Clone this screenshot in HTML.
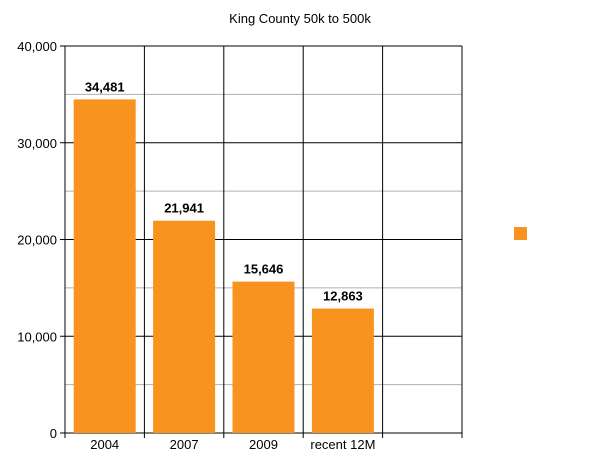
<!DOCTYPE html>
<html><head><meta charset="utf-8"><style>
body{margin:0;background:#fff;font-family:"Liberation Sans",sans-serif}
</style></head><body>
<svg id="chart" width="600" height="463" xmlns="http://www.w3.org/2000/svg" font-family="Liberation Sans, sans-serif">
<text x="300" y="23" text-anchor="middle" font-size="13" fill="#000">King County 50k to 500k</text>
<g id="grid"></g><g id="bars"></g><g id="axes"></g>
<rect x="514" y="227" width="13" height="13" fill="#f7931e"/>
</svg>
<script>
const categories = ["2004","2007","2009","recent 12M",""];
const values = [34481, 21941, 15646, 12863, null];
const valueLabels = ["34,481","21,941","15,646","12,863",""];
const yTicks = [0,10000,20000,30000,40000];
const yTickLabels = ["0","10,000","20,000","30,000","40,000"];
const minorTicks = [5000,15000,25000,35000];
const NS="http://www.w3.org/2000/svg";
const L=65,R=462,T=46,B=433,yMax=40000;
const slot=(R-L)/categories.length;
const y=v=>B-(v/yMax)*(B-T);
const x=i=>L+i*slot;
function mk(tag,attrs,parent){const e=document.createElementNS(NS,tag);for(const k in attrs)e.setAttribute(k,attrs[k]);parent.appendChild(e);return e;}
const grid=document.getElementById('grid'),bars=document.getElementById('bars'),axes=document.getElementById('axes');
minorTicks.forEach(v=>{const l=mk('line',{x1:L,x2:R,y1:y(v),y2:y(v),stroke:'#b0b0b0','stroke-width':1},grid);

});
yTicks.forEach((v,i)=>{const l=mk('line',{x1:L-5,x2:R,y1:y(v),y2:y(v),stroke:'#000','stroke-width':1},grid);


const t=mk('text',{x:L-8,y:y(v)+5,'text-anchor':'end','font-size':13},axes);t.textContent=yTickLabels[i];

});
for(let i=0;i<=categories.length;i++){const l=mk('line',{x1:x(i),x2:x(i),y1:T,y2:B+5,stroke:'#000','stroke-width':1},grid);

}
categories.forEach((c,i)=>{const cx=x(i)+slot/2;
if(values[i]!=null){const r=mk('rect',{x:cx-31,y:y(values[i]),width:62,height:B-y(values[i]),fill:'#f7931e'},bars);


const t=mk('text',{x:cx,y:y(values[i])-8,'text-anchor':'middle','font-size':13,'font-weight':'bold'},bars);t.textContent=valueLabels[i];

}
if(c){const t=mk('text',{x:cx,y:B+16,'text-anchor':'middle','font-size':13},axes);t.textContent=c;

}});
</script>
</body></html>
